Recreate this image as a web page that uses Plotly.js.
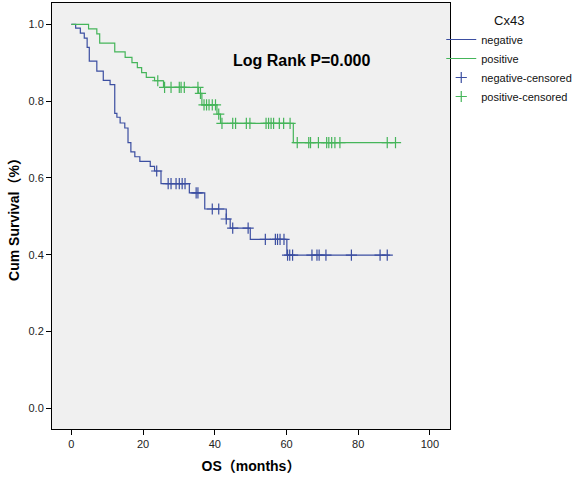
<!DOCTYPE html>
<html><head><meta charset="utf-8">
<script src="https://cdn.plot.ly/plotly-3.0.1.min.js"></script>
<style>body{margin:0;background:#fff}#chart{width:580px;height:482px}</style>
</head><body><div id="chart"></div>
<script>
// Step curves (time in months, cumulative survival)
const negTime = [0, 1.2, 2.5, 3.6, 4.4, 5.0, 7.1, 8.9, 10.8, 12.1, 12.7, 13.6, 14.9, 15.8, 16.6, 17.7, 19.1, 22.0, 23.2, 25.0, 32.9, 37.2, 43.2, 44.3, 49.9, 60.1, 88.9];
const negSurv = [1.0, 0.990, 0.977, 0.964, 0.940, 0.904, 0.878, 0.854, 0.843, 0.768, 0.758, 0.743, 0.730, 0.692, 0.668, 0.655, 0.643, 0.630, 0.618, 0.585, 0.561, 0.519, 0.493, 0.469, 0.440, 0.399, 0.399];
const posTime = [0, 4.8, 7.1, 7.9, 12.1, 15.0, 16.9, 18.4, 19.6, 20.9, 23.2, 25.7, 35.4, 36.4, 40.6, 41.6, 61.9, 90.4];
const posSurv = [1.0, 0.988, 0.975, 0.951, 0.928, 0.914, 0.900, 0.887, 0.874, 0.862, 0.853, 0.836, 0.820, 0.790, 0.766, 0.742, 0.692, 0.692];
// Censored observations
const negCensTime = [23.8, 27.0, 27.8, 29.2, 30.1, 30.9, 31.7, 34.8, 35.3, 39.3, 41.1, 43.2, 45.0, 49.3, 54.1, 56.9, 57.5, 58.2, 59.3, 60.3, 60.9, 61.7, 67.1, 68.5, 69.1, 71.0, 78.1, 86.1, 88.1];
const negCensSurv = [0.618, 0.585, 0.585, 0.585, 0.585, 0.585, 0.585, 0.561, 0.561, 0.519, 0.519, 0.493, 0.469, 0.469, 0.440, 0.440, 0.440, 0.440, 0.440, 0.399, 0.399, 0.399, 0.399, 0.399, 0.399, 0.399, 0.399, 0.399, 0.399];
const posCensTime = [24.1, 26.0, 27.8, 30.1, 30.6, 31.5, 35.3, 36.0, 37.0, 37.7, 38.4, 39.3, 40.2, 41.1, 42.0, 45.0, 45.8, 48.8, 49.8, 54.3, 55.0, 55.7, 56.4, 58.0, 59.2, 61.0, 63.0, 66.2, 66.7, 68.9, 71.2, 71.8, 72.6, 73.5, 74.9, 88.1, 90.4];
const posCensSurv = [0.853, 0.836, 0.836, 0.836, 0.836, 0.836, 0.836, 0.820, 0.790, 0.790, 0.790, 0.790, 0.790, 0.766, 0.742, 0.742, 0.742, 0.742, 0.742, 0.742, 0.742, 0.742, 0.742, 0.742, 0.742, 0.742, 0.692, 0.692, 0.692, 0.692, 0.692, 0.692, 0.692, 0.692, 0.692, 0.692, 0.692];
const xTicks = [0, 20, 40, 60, 80, 100];
const yTicks = [0, 0.2, 0.4, 0.6, 0.8, 1.0];

const blue = '#3b4ea1';
const green = '#45b55a';
const fontFam = 'Arial, "Liberation Sans", "Noto Sans CJK SC", sans-serif';

const traces = [
  {x: negTime, y: negSurv, name: 'negative', mode: 'lines', line: {color: blue, width: 1.2, shape: 'hv'}},
  {x: posTime, y: posSurv, name: 'positive', mode: 'lines', line: {color: green, width: 1.2, shape: 'hv'}},
  {x: negCensTime, y: negCensSurv, name: 'negative-censored', mode: 'markers',
   marker: {symbol: 'cross-thin-open', size: 8, color: blue, line: {color: blue, width: 1.2}}},
  {x: posCensTime, y: posCensSurv, name: 'positive-censored', mode: 'markers',
   marker: {symbol: 'cross-thin-open', size: 8, color: green, line: {color: green, width: 1.2}}}
];

const layout = {
  width: 580, height: 482,
  margin: {l: 52, r: 123, t: 3, b: 53},
  paper_bgcolor: '#ffffff',
  plot_bgcolor: '#f0f0f0',
  font: {family: fontFam, size: 11, color: '#222'},
  showlegend: true,
  xaxis: {
    range: [-5.4, 105.6], tickvals: xTicks, ticks: 'outside', ticklen: 5, tickcolor: '#000',
    showgrid: false, zeroline: false, showline: true, mirror: true, linecolor: '#000', linewidth: 1,
    tickfont: {size: 11, color: '#222'},
    title: {text: 'OS（months）', font: {size: 14, color: '#000', family: fontFam, weight: 'bold'}, standoff: 11}
  },
  yaxis: {
    range: [-0.054, 1.0555], tickvals: yTicks, tickformat: '.1f', ticks: 'outside', ticklen: 5, tickcolor: '#000',
    showgrid: false, zeroline: false, showline: true, mirror: true, linecolor: '#000', linewidth: 1,
    tickfont: {size: 11, color: '#222'},
    title: {text: 'Cum Survival（%）', font: {size: 14, color: '#000', family: fontFam, weight: 'bold'}, standoff: 5}
  },
  legend: {
    x: 0.978, xanchor: 'left', y: 0.988, yanchor: 'top',
    bgcolor: 'rgba(0,0,0,0)', font: {size: 11, color: '#111'},
    title: {text: 'Cx43', side: 'top center', font: {size: 13, color: '#111'}},
    tracegroupgap: 0
  },
  annotations: [{
    xref: 'paper', yref: 'paper', x: 0.626, y: 0.890, showarrow: false,
    text: 'Log Rank P=0.000', font: {size: 16, color: '#000', family: fontFam, weight: 'bold'}
  }]
};

Plotly.newPlot('chart', traces, layout, {displayModeBar: false, staticPlot: true});
</script>
</body></html>
